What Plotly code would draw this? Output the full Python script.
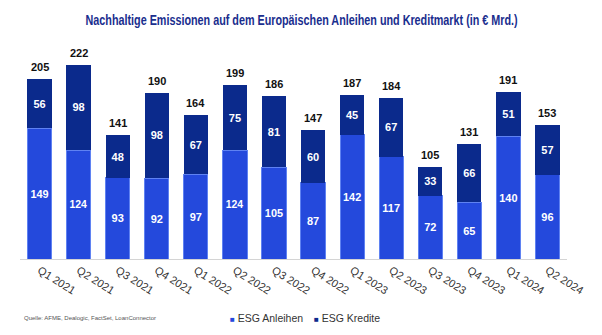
import plotly.graph_objects as go

quarters = ["Q1 2021", "Q2 2021", "Q3 2021", "Q4 2021", "Q1 2022", "Q2 2022", "Q3 2022",
            "Q4 2022", "Q1 2023", "Q2 2023", "Q3 2023", "Q4 2023", "Q1 2024", "Q2 2024"]
anleihen = [149, 124, 93, 92, 97, 124, 105, 87, 142, 117, 72, 65, 140, 96]
kredite = [56, 98, 48, 98, 67, 75, 81, 60, 45, 67, 33, 66, 51, 57]
totals = [a + k for a, k in zip(anleihen, kredite)]

LIGHT = "#2449dc"
DARK = "#0b2a8c"
FONT = "Liberation Sans, Arial, sans-serif"
W, H = 602, 335
MARGIN = dict(l=20, r=35, t=40, b=76)

fig = go.Figure()
for vals, name, color, line in [
    (anleihen, "ESG Anleihen", LIGHT, dict(color="#5f82f2", width=1)),
    (kredite, "ESG Kredite", DARK, dict(width=0)),
]:
    fig.add_trace(go.Bar(
        x=quarters, y=vals, name=name,
        marker=dict(color=color, line=line),
        text=vals, textposition="inside", insidetextanchor="middle", textangle=0,
        textfont=dict(color="white", size=11, family=FONT, weight="bold"),
        showlegend=False,
    ))

# totals above each stack
total_labels = [
    dict(x=q, y=t, xref="x", yref="y", text=f"<b>{t}</b>", showarrow=False,
         yanchor="bottom", yshift=4, font=dict(size=11, color="#111111", family=FONT))
    for q, t in zip(quarters, totals)
]


def px(x, y):
    """Convert figure pixel coordinates to paper coordinates."""
    pw = W - MARGIN["l"] - MARGIN["r"]
    ph = H - MARGIN["t"] - MARGIN["b"]
    return (x - MARGIN["l"]) / pw, (H - MARGIN["b"] - y) / ph


def text_at(x, y, text, size, color, family=FONT, xanchor="left", **kw):
    xp, yp = px(x, y)
    return dict(x=xp, y=yp, xref="paper", yref="paper", text=text, showarrow=False,
                xanchor=xanchor, yanchor="middle",
                font=dict(size=size, color=color, family=family, **kw))


def legend_item(color, label):
    return f"<span style='color:{color};font-size:8px'>■</span> {label}"


annotations = [
    text_at(301, 19, "Nachhaltige Emissionen auf dem Europäischen Anleihen und Kreditmarkt (in € Mrd.)",
            15, "#1a2e8e", xanchor="center", weight="bold"),
    text_at(22, 318, "Quelle: AFME, Dealogic, FactSet, LoanConnector", 6, "#555555"),
    text_at(228, 318, legend_item(LIGHT, "ESG Anleihen"), 10.5, "#333333"),
    text_at(312, 318, legend_item(DARK, "ESG Kredite"), 10.5, "#333333"),
] + total_labels

fig.update_layout(
    width=W, height=H,
    barmode="stack", bargap=0.38,
    plot_bgcolor="white", paper_bgcolor="white",
    margin=MARGIN,
    xaxis=dict(
        showgrid=False, showline=True, linecolor="#d4d4d4", linewidth=1,
        ticks="", tickangle=32,
        tickfont=dict(size=11, color="#333333", family=FONT),
    ),
    yaxis=dict(range=[0, 250], visible=False),
    annotations=annotations,
)

# narrow the headline horizontally (condensed look)
condense = """
var gd = document.getElementById('{plot_id}');
function condense() {
  var t = gd.querySelector('.annotation[data-index="0"] text');
  if (!t) return;
  t.style.transformBox = 'fill-box';
  t.style.transformOrigin = 'center';
  t.style.transform = 'scaleX(0.72)';
}
condense();
gd.on('plotly_afterplot', condense);
"""

fig.write_html("out.html", post_script=condense)
